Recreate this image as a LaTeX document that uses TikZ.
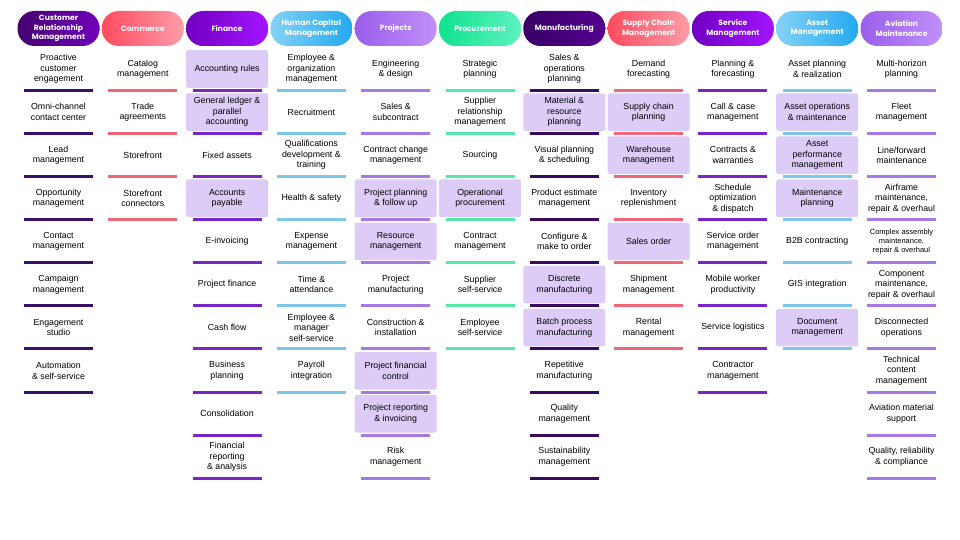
\documentclass[tikz,border=0pt]{standalone}
\usepackage{fontspec}
\setmainfont{Liberation Sans}
\newfontfamily\hdfont{Poppins}
\definecolor{crmA}{HTML}{440070}\definecolor{crmB}{HTML}{7000BC}
\definecolor{comA}{HTML}{FF4B5E}\definecolor{comB}{HTML}{FF9BA8}
\definecolor{finA}{HTML}{7000C0}\definecolor{finB}{HTML}{A414FF}
\definecolor{hcmA}{HTML}{84D2F6}\definecolor{hcmB}{HTML}{22A9F0}
\definecolor{prjA}{HTML}{9A5EEA}\definecolor{prjB}{HTML}{C190FA}
\definecolor{proA}{HTML}{10E28E}\definecolor{proB}{HTML}{5CF2BF}
\definecolor{mfgA}{HTML}{380066}\definecolor{mfgB}{HTML}{54008F}
\definecolor{lnCrm}{HTML}{3C0F6A}
\definecolor{lnCom}{HTML}{EE6677}
\definecolor{lnFin}{HTML}{7A25C8}
\definecolor{lnHcm}{HTML}{7DC6EA}
\definecolor{lnPrj}{HTML}{A878E6}
\definecolor{lnPro}{HTML}{55E8A8}
\definecolor{lnMfg}{HTML}{3A0A62}
\definecolor{hlc}{HTML}{DDCCF7}
\tikzset{
  hdr/.style={rounded corners=17pt, minimum width=82pt, minimum height=35pt, inner sep=0pt,
    align=center, text=white, font=\hdfont\bfseries\fontsize{7.6}{9.6}\selectfont},
  cell/.style={minimum width=82pt, minimum height=37.6pt, inner sep=0pt, align=center,
    font=\fontsize{8.8}{10.5}\selectfont},
  hl/.style={fill=hlc, rounded corners=2pt},
  small/.style={font=\fontsize{7.5}{9.3}\selectfont},
  sepline/.style={line width=3pt},
  g/.style 2 args={left color=#1, right color=#2}
}
\newcommand\mkcol[5]{%
  \pgfmathsetmacro\xc{58.5+84.3*(#1-1)}%
  \node[hdr,#3] (h#1) at (\xc,28.5) {#2};
  \foreach \t/\h [count=\k from 0] in {#5} {
    \pgfmathsetmacro\yc{69+43.1*\k}
    \pgfmathsetmacro\yl{90.3+43.1*\k}
    \ifcase\h
      \node[cell] (c#1-\k) at (\xc,\yc) {\t};
    \or
      \node[cell,hl] (c#1-\k) at (\xc,\yc) {\t};
    \or
      \node[cell,small] (c#1-\k) at (\xc,\yc) {\t};
    \fi
    \coordinate (l#1-\k) at (\xc-34.5,\yl);
    \coordinate (r#1-\k) at (\xc+34.5,\yl);
    \draw[sepline,draw=#4] (l#1-\k) -- (r#1-\k);
  }%
}
\begin{document}
\begin{tikzpicture}[x=1pt,y=-1pt]
\useasboundingbox (0,0) rectangle (960,540);
\fill[white] (0,0) rectangle (960,540);
\mkcol{1}{Customer\\Relationship\\Management}{g={crmA}{crmB}}{lnCrm}{%
  {Proactive\\customer\\engagement}/0,
  {Omni-channel\\contact center}/0,
  {Lead\\management}/0,
  {Opportunity\\management}/0,
  {Contact\\management}/0,
  {Campaign\\management}/0,
  {Engagement\\studio}/0,
  {Automation\\\& self-service}/0}
\mkcol{2}{Commerce}{g={comA}{comB}}{lnCom}{%
  {Catalog\\management}/0,
  {Trade\\agreements}/0,
  {Storefront}/0,
  {Storefront\\connectors}/0}
\mkcol{3}{Finance}{g={finA}{finB}}{lnFin}{%
  {Accounting rules}/1,
  {General ledger \&\\parallel\\accounting}/1,
  {Fixed assets}/0,
  {Accounts\\payable}/1,
  {E-invoicing}/0,
  {Project finance}/0,
  {Cash flow}/0,
  {Business\\planning}/0,
  {Consolidation}/0,
  {Financial\\reporting\\\& analysis}/0}
\mkcol{4}{Human Capital\\Management}{g={hcmA}{hcmB}}{lnHcm}{%
  {Employee \&\\organization\\management}/0,
  {Recruitment}/0,
  {Qualifications\\development \&\\training}/0,
  {Health \& safety}/0,
  {Expense\\management}/0,
  {Time \&\\attendance}/0,
  {Employee \&\\manager\\self-service}/0,
  {Payroll\\integration}/0}
\mkcol{5}{Projects}{g={prjA}{prjB}}{lnPrj}{%
  {Engineering\\\& design}/0,
  {Sales \&\\subcontract}/0,
  {Contract change\\management}/0,
  {Project planning\\\& follow up}/1,
  {Resource\\management}/1,
  {Project\\manufacturing}/0,
  {Construction \&\\installation}/0,
  {Project financial\\control}/1,
  {Project reporting\\\& invoicing}/1,
  {Risk\\management}/0}
\mkcol{6}{Procurement}{g={proA}{proB}}{lnPro}{%
  {Strategic\\planning}/0,
  {Supplier\\relationship\\management}/0,
  {Sourcing}/0,
  {Operational\\procurement}/1,
  {Contract\\management}/0,
  {Supplier\\self-service}/0,
  {Employee\\self-service}/0}
\mkcol{7}{Manufacturing}{g={mfgA}{mfgB}}{lnMfg}{%
  {Sales \&\\operations\\planning}/0,
  {Material \&\\resource\\planning}/1,
  {Visual planning\\\& scheduling}/0,
  {Product estimate\\management}/0,
  {Configure \&\\make to order}/0,
  {Discrete\\manufacturing}/1,
  {Batch process\\manufacturing}/1,
  {Repetitive\\manufacturing}/0,
  {Quality\\management}/0,
  {Sustainability\\management}/0}
\mkcol{8}{Supply Chain\\Management}{g={comA}{comB}}{lnCom}{%
  {Demand\\forecasting}/0,
  {Supply chain\\planning}/1,
  {Warehouse\\management}/1,
  {Inventory\\replenishment}/0,
  {Sales order}/1,
  {Shipment\\management}/0,
  {Rental\\management}/0}
\mkcol{9}{Service\\Management}{g={finA}{finB}}{lnFin}{%
  {Planning \&\\forecasting}/0,
  {Call \& case\\management}/0,
  {Contracts \&\\warranties}/0,
  {Schedule\\optimization\\\& dispatch}/0,
  {Service order\\management}/0,
  {Mobile worker\\productivity}/0,
  {Service logistics}/0,
  {Contractor\\management}/0}
\mkcol{10}{Asset\\Management}{g={hcmA}{hcmB}}{lnHcm}{%
  {Asset planning\\\& realization}/0,
  {Asset operations\\\& maintenance}/1,
  {Asset\\performance\\management}/1,
  {Maintenance\\planning}/1,
  {B2B contracting}/0,
  {GIS integration}/0,
  {Document\\management}/1}
\mkcol{11}{Aviation\\Maintenance}{g={prjA}{prjB}}{lnPrj}{%
  {Multi-horizon\\planning}/0,
  {Fleet\\management}/0,
  {Line/forward\\maintenance}/0,
  {Airframe\\maintenance,\\repair \& overhaul}/0,
  {Complex assembly\\maintenance,\\repair \& overhaul}/2,
  {Component\\maintenance,\\repair \& overhaul}/0,
  {Disconnected\\operations}/0,
  {Technical\\content\\management}/0,
  {Aviation material\\support}/0,
  {Quality, reliability\\\& compliance}/0}
\end{tikzpicture}
\end{document}
